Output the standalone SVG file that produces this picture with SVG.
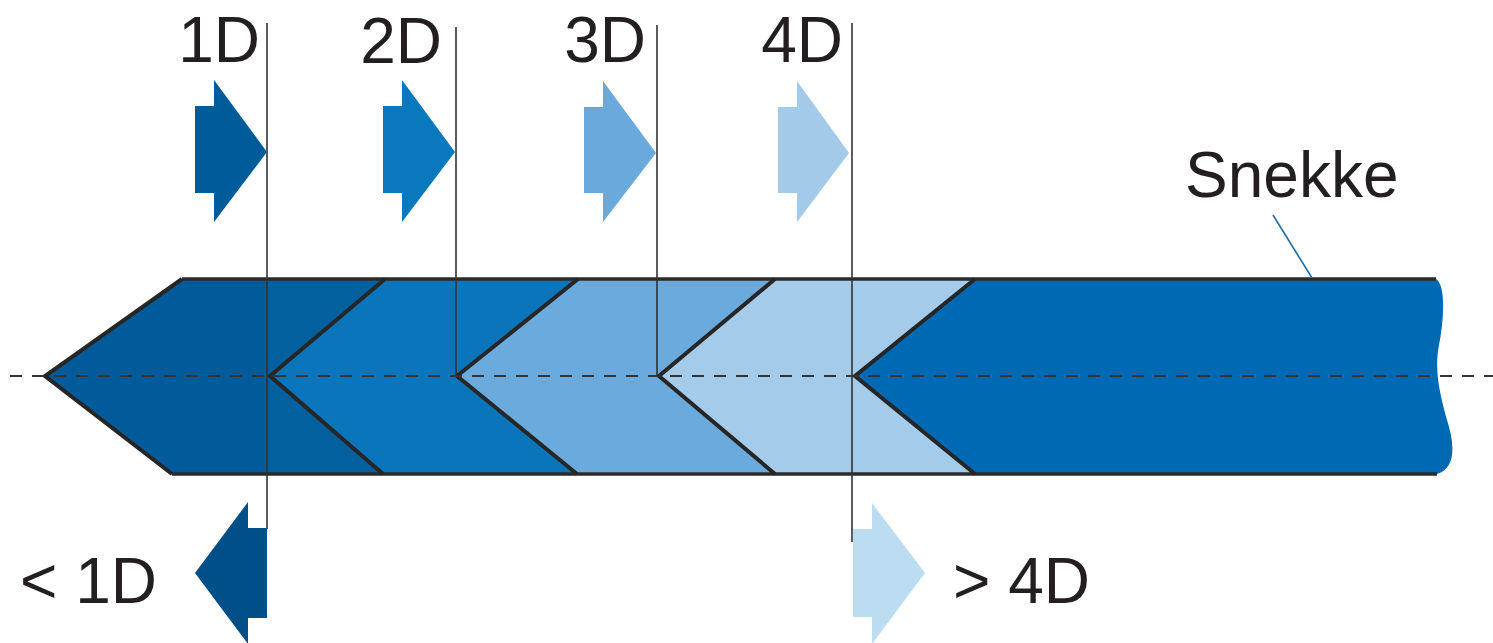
<svg xmlns="http://www.w3.org/2000/svg" width="1493" height="643" viewBox="0 0 1493 643">
  <style>
    .lbl { font-family: "Liberation Sans", Arial, sans-serif; font-size: 64px; fill: #231f20; }
    .edge { fill: none; stroke: #262626; stroke-width: 4; stroke-linejoin: miter; }
    .rail { fill: none; stroke: #2b2b2b; stroke-width: 3.5; }
    .guide { fill: none; stroke: #333333; stroke-width: 1.6; }
    .axis { fill: none; stroke: #333333; stroke-width: 2; stroke-dasharray: 12 10; }
  </style>

  <g id="band">
    <g id="seg1">
      <polygon points="45,376 182,279 385,279 270,376 383,474 172,474" fill="#015a99"/>
      <polygon points="268,279 385,279 270,376 383,474 268,474" fill="#03609f"/>
    </g>
    <g id="seg2">
      <polygon points="270,376 385,279 578,279 457,376 577,474 383,474" fill="#0a75ba"/>
    </g>
    <g id="seg3">
      <polygon points="457,376 578,279 775,279 659,376 775,474 577,474" fill="#6aaadc"/>
    </g>
    <g id="seg4">
      <polygon points="659,376 775,279 975,279 855,376 975,474 775,474" fill="#a5cbeb"/>
    </g>
    <g id="snekke-body">
      <path d="M855,376 L975,279 L1436,279 C1446,285 1444,320 1439,345 C1434,370 1440,395 1447,420 C1455,445 1456,468 1437,474 L975,474 Z" fill="#0069b4"/>
    </g>
    <g id="outline">
      <line class="rail" x1="182" y1="279" x2="1436" y2="279"/>
      <line class="rail" x1="172" y1="474" x2="1437" y2="474"/>
      <polyline class="edge" points="182,279 45,376 172,474"/>
      <polyline class="edge" points="385,279 270,376 383,474"/>
      <polyline class="edge" points="578,279 457,376 577,474"/>
      <polyline class="edge" points="775,279 659,376 775,474"/>
      <polyline class="edge" points="975,279 855,376 975,474"/>
    </g>
  </g>

  <g id="connectors">
    <line class="axis" x1="10" y1="376" x2="1493" y2="376"/>
    <line class="guide" x1="267" y1="23" x2="267" y2="529"/>
    <line class="guide" x1="456" y1="27" x2="456" y2="376"/>
    <line class="guide" x1="657" y1="25" x2="657" y2="376"/>
    <line class="guide" x1="852" y1="23" x2="852" y2="542"/>
    <line x1="1273" y1="215" x2="1312" y2="278" stroke="#1c6fa9" stroke-width="1.6"/>
  </g>

  <g id="arrow-1D">
    <polygon points="195,106 214,106 214,80 267,152 214,222 214,193 195,193" fill="#005b9b"/>
    <text class="lbl" x="260" y="62" text-anchor="end">1D</text>
  </g>
  <g id="arrow-2D">
    <polygon points="383,106 402,106 402,80 455,152 402,222 402,193 383,193" fill="#0a78bd"/>
    <text class="lbl" x="442" y="63" text-anchor="end">2D</text>
  </g>
  <g id="arrow-3D">
    <polygon points="584,107 603,107 603,81 656,153 603,222 603,193 584,193" fill="#69a9dc"/>
    <text class="lbl" x="646" y="62" text-anchor="end">3D</text>
  </g>
  <g id="arrow-4D">
    <polygon points="778,107 797,107 797,81 849,153 797,222 797,193 778,193" fill="#a4caea"/>
    <text class="lbl" x="843" y="62" text-anchor="end">4D</text>
  </g>
  <g id="arrow-lt1D">
    <polygon points="267,528 248,528 248,502 195,573 248,644 248,618 267,618" fill="#004f88"/>
    <text class="lbl" x="20" y="603">&lt; 1D</text>
  </g>
  <g id="arrow-gt4D">
    <polygon points="853,529 872,529 872,503 925,573 872,644 872,617 853,617" fill="#bcdcf2"/>
    <text class="lbl" x="953" y="603">&gt; 4D</text>
  </g>
  <g id="label-snekke">
    <text class="lbl" x="1185" y="197">Snekke</text>
  </g>
</svg>
